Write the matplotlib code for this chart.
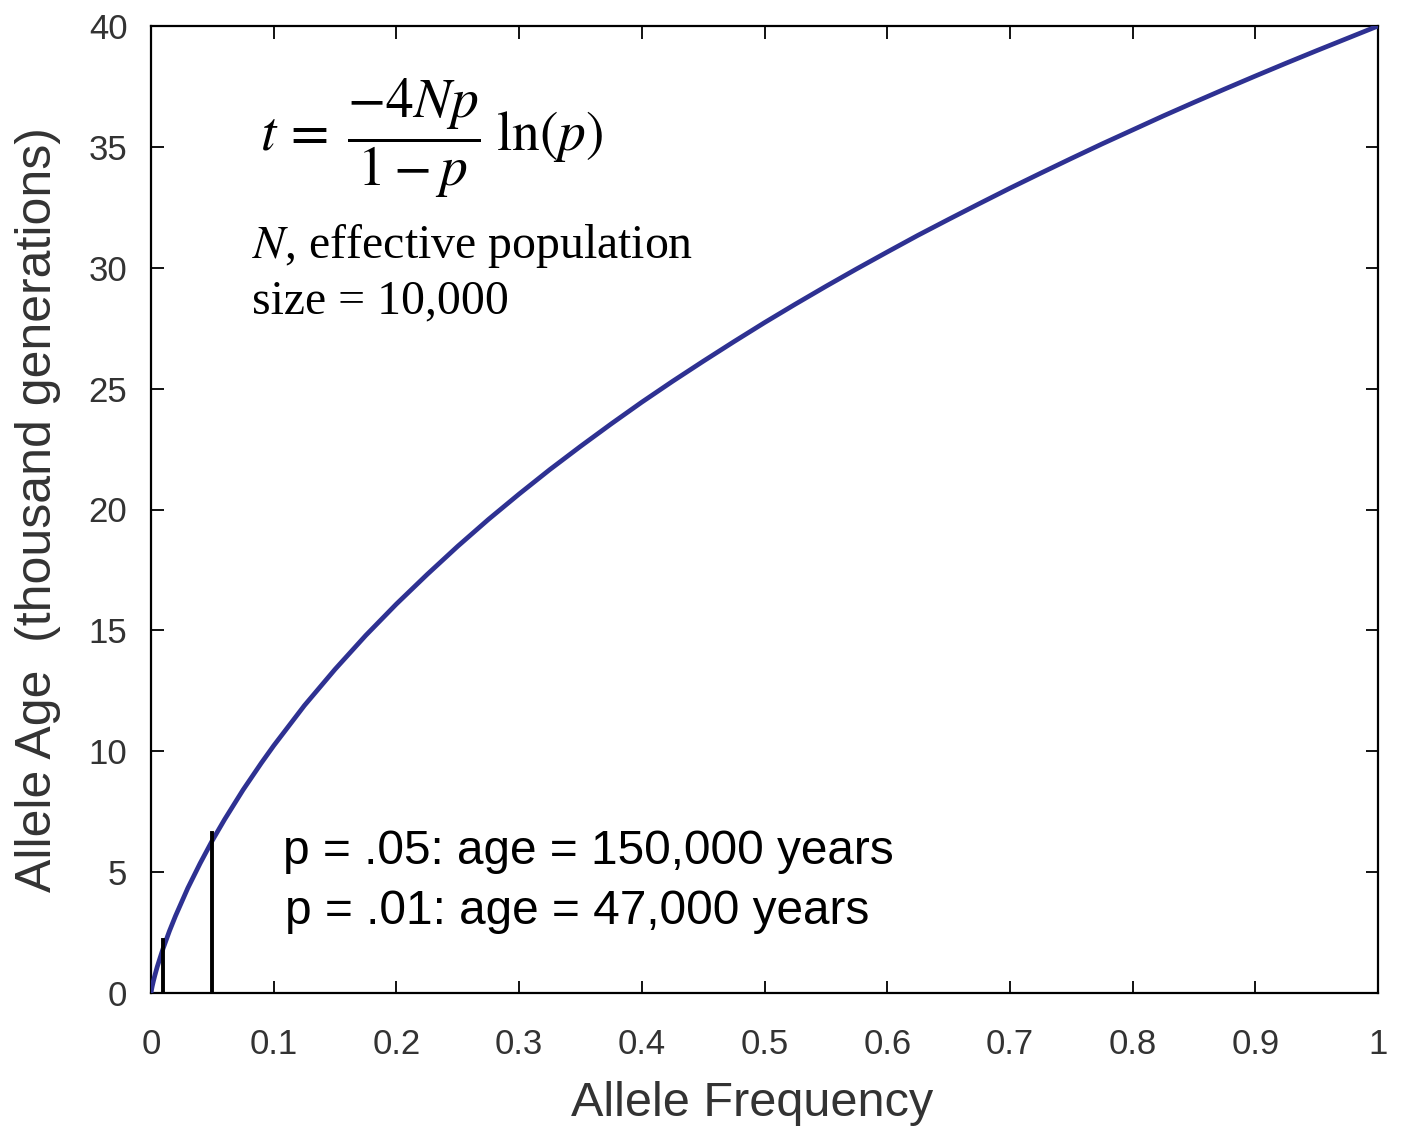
import matplotlib
matplotlib.use("Agg")
import matplotlib.pyplot as plt
from matplotlib import font_manager

# Curve values (allele frequency vs age, thousand generations)
freq = [0.0, 0.0005, 0.001, 0.002, 0.003, 0.005, 0.0075, 0.01, 0.015, 0.02, 0.03, 0.04,
        0.05, 0.06, 0.075, 0.09, 0.1, 0.125, 0.15, 0.175, 0.2, 0.225, 0.25, 0.275,
        0.3, 0.325, 0.35, 0.375, 0.4, 0.425, 0.45, 0.475, 0.5, 0.525, 0.55, 0.575,
        0.6, 0.625, 0.65, 0.675, 0.7, 0.725, 0.75, 0.775, 0.8, 0.825, 0.85, 0.875,
        0.9, 0.925, 0.95, 0.975, 1.0]
age = [0.0, 0.15, 0.28, 0.50, 0.70, 1.07, 1.47, 1.86, 2.56, 3.19, 4.34, 5.36,
       6.31, 7.18, 8.40, 9.52, 10.23, 11.89, 13.39, 14.79, 16.09, 17.31, 18.48, 19.59,
       20.64, 21.65, 22.61, 23.54, 24.44, 25.30, 26.13, 26.94, 27.73, 28.49, 29.23, 29.95,
       30.65, 31.34, 32.00, 32.65, 33.29, 33.91, 34.52, 35.12, 35.70, 36.28, 36.84, 37.39,
       37.93, 38.46, 38.98, 39.49, 40.0]

# Marker lines (frequency, top of line)
mark_freq = [0.01, 0.05]
mark_top = [2.2, 6.6]

xticks = [0, 0.1, 0.2, 0.3, 0.4, 0.5, 0.6, 0.7, 0.8, 0.9, 1.0]
xticklabels = ["0", "0.1", "0.2", "0.3", "0.4", "0.5", "0.6", "0.7", "0.8", "0.9", "1"]
yticks = [0, 5, 10, 15, 20, 25, 30, 35, 40]

names = {f.name for f in font_manager.fontManager.ttflist}
sans = "Liberation Sans" if "Liberation Sans" in names else "DejaVu Sans"
serif = "Liberation Serif" if "Liberation Serif" in names else "DejaVu Serif"

plt.rcParams["mathtext.fontset"] = "stix"

fig = plt.figure(figsize=(14.04, 11.28), dpi=100)
ax = fig.add_axes([151 / 1404, 1 - 993 / 1128, (1378 - 151) / 1404, (993 - 26) / 1128])

ax.plot(freq, age, color="#2E3192", lw=3.4, solid_capstyle="round", zorder=3)
for xf, yt in zip(mark_freq, mark_top):
    ax.plot([xf, xf], [0, yt], color="black", lw=2.8, zorder=4)

ax.set_xlim(0, 1)
ax.set_ylim(0, 40)
ax.set_xticks(xticks)
ax.set_xticklabels(xticklabels)
ax.set_yticks(yticks)
ax.tick_params(direction="in", length=9, width=1.3, top=True, right=True,
               labelsize=25, labelcolor="#333333")
ax.tick_params(axis="x", pad=25)
ax.tick_params(axis="y", pad=17)
for lab in ax.get_xticklabels() + ax.get_yticklabels():
    lab.set_family(sans)
for s in ax.spines.values():
    s.set_linewidth(1.6)

ax.set_xlabel("Allele Frequency", fontsize=35, family=sans, color="#333333")
ax.xaxis.set_label_coords((752 - 151) / (1378 - 151), -(1103 - 993) / (993 - 26))
ax.xaxis.label.set_va("center")
ax.set_ylabel("Allele Age  (thousand generations)", fontsize=36, family=sans,
              color="#333333")
ax.yaxis.set_label_coords(-(151 - 38) / (1378 - 151), (993 - 510) / (993 - 26))
ax.yaxis.label.set_va("center")

# formula
fig.text(260 / 1404, 1 - 138 / 1128, r"$t\,=\;\dfrac{-4Np}{1-p}\;\ln(p)$",
         fontsize=40, ha="left", va="center")
fig.text(252 / 1404, 1 - 258 / 1128, r"$N$, effective population", family=serif,
         fontsize=34.4, ha="left", va="baseline")
fig.text(252 / 1404, 1 - 313 / 1128, "size = 10,000", family=serif,
         fontsize=34.4, ha="left", va="baseline")

fig.text(283 / 1404, 1 - 852 / 1128, "p = .05: age = 150,000 years", family=sans,
         fontsize=34.4, ha="left", va="center")
fig.text(285 / 1404, 1 - 912 / 1128, "p = .01: age = 47,000 years", family=sans,
         fontsize=34.4, ha="left", va="center")

fig.savefig("out.png", dpi=100)
